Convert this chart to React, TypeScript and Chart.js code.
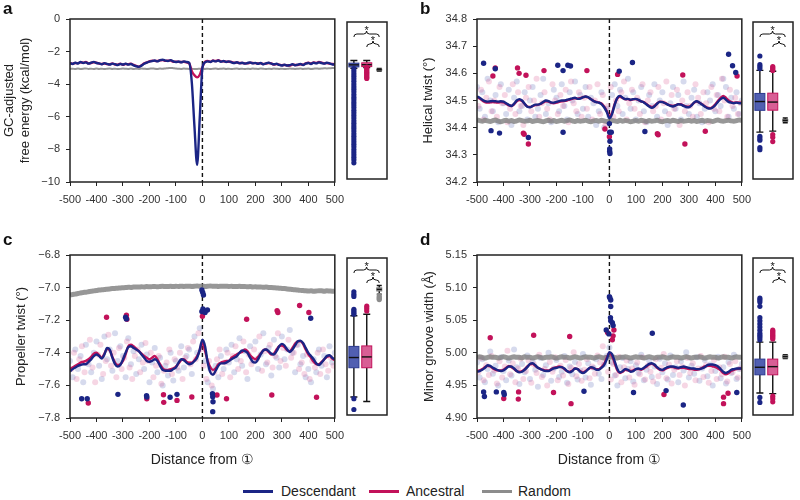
import React, { useEffect, useRef } from "react";
import { Chart, registerables } from "chart.js";

Chart.register(...registerables);

const FONT = '"Liberation Sans", Arial, Helvetica, sans-serif';
const BLUE = "#1b2585";
const PINK = "#c2125a";
const FAINT_BLUE = "rgba(70,85,175,0.22)";
const FAINT_PINK = "rgba(215,70,130,0.22)";

// ---------- sampling positions (bp) ----------
const positions = [-500,-490,-480,-470,-460,-450,-440,-430,-420,-410,-400,-390,-380,-370,-360,-350,-340,-330,-320,-310,-300,-290,-280,-270,-260,-250,-240,-230,-220,-210,-200,-190,-180,-170,-160,-150,-140,-130,-120,-110,-100,-90,-80,-70,-60,-50,-40,-30,-20,-10,0,10,20,30,40,50,60,70,80,90,100,110,120,130,140,150,160,170,180,190,200,210,220,230,240,250,260,270,280,290,300,310,320,330,340,350,360,370,380,390,400,410,420,430,440,450,460,470,480,490,500];
const midPositions = [-495,-485,-475,-465,-455,-445,-435,-425,-415,-405,-395,-385,-375,-365,-355,-345,-335,-325,-315,-305,-295,-285,-275,-265,-255,-245,-235,-225,-215,-205,-195,-185,-175,-165,-155,-145,-135,-125,-115,-105,-95,-85,-75,-65,-55,-45,-35,-25,-15,-5,5,15,25,35,45,55,65,75,85,95,105,115,125,135,145,155,165,175,185,195,205,215,225,235,245,255,265,275,285,295,305,315,325,335,345,355,365,375,385,395,405,415,425,435,445,455,465,475,485,495];
const xTicks = [-500,-400,-300,-200,-100,0,100,200,300,400,500];

// ---------- panel a: GC-adjusted free energy ----------
const freeDesc = [
-2.70,-2.76,-2.68,-2.73,-2.64,-2.70,-2.66,-2.74,-2.68,-2.63,
-2.70,-2.72,-2.78,-2.71,-2.75,-2.80,-2.74,-2.77,-2.82,-2.76,
-2.79,-2.74,-2.80,-2.76,-2.84,-2.90,-2.94,-2.86,-2.75,-2.68,
-2.62,-2.58,-2.55,-2.60,-2.52,-2.50,-2.55,-2.58,-2.52,-2.60,
-2.64,-2.61,-2.66,-2.60,-2.64,-2.68,-3.90,-6.60,-8.95,-6.05,
-3.00,-2.66,-2.60,-2.64,-2.56,-2.60,-2.55,-2.62,-2.58,-2.64,
-2.60,-2.66,-2.70,-2.65,-2.72,-2.68,-2.74,-2.70,-2.66,-2.72,
-2.69,-2.75,-2.70,-2.78,-2.72,-2.68,-2.74,-2.78,-2.75,-2.82,
-2.85,-2.80,-2.86,-2.83,-2.78,-2.84,-2.80,-2.76,-2.82,-2.74,
-2.70,-2.76,-2.68,-2.72,-2.66,-2.70,-2.74,-2.68,-2.72,-2.78,
-2.80];
const freeAnc = [
-2.72,-2.74,-2.70,-2.71,-2.66,-2.68,-2.64,-2.72,-2.70,-2.65,
-2.68,-2.74,-2.76,-2.73,-2.77,-2.78,-2.72,-2.79,-2.80,-2.74,
-2.81,-2.76,-2.78,-2.74,-2.82,-2.88,-2.92,-2.84,-2.72,-2.66,
-2.60,-2.56,-2.57,-2.58,-2.54,-2.52,-2.57,-2.56,-2.55,-2.62,
-2.62,-2.63,-2.64,-2.62,-2.66,-2.72,-3.20,-3.45,-3.58,-3.42,
-2.95,-2.62,-2.58,-2.62,-2.55,-2.58,-2.53,-2.60,-2.60,-2.62,
-2.62,-2.64,-2.68,-2.67,-2.70,-2.70,-2.72,-2.72,-2.68,-2.70,
-2.71,-2.73,-2.72,-2.76,-2.74,-2.70,-2.72,-2.80,-2.77,-2.80,
-2.83,-2.82,-2.84,-2.85,-2.80,-2.82,-2.82,-2.78,-2.80,-2.72,
-2.68,-2.74,-2.66,-2.70,-2.64,-2.68,-2.72,-2.70,-2.74,-2.76,
-2.78];
const freeRnd = [
-3.06,-3.05,-3.07,-3.04,-3.06,-3.05,-3.03,-3.06,-3.05,-3.07,
-3.04,-3.06,-3.05,-3.07,-3.05,-3.04,-3.06,-3.05,-3.07,-3.06,
-3.04,-3.05,-3.06,-3.04,-3.07,-3.05,-3.06,-3.04,-3.05,-3.06,
-3.05,-3.03,-3.05,-3.06,-3.04,-3.05,-3.03,-3.02,-3.00,-3.02,
-3.04,-3.05,-3.06,-3.04,-3.05,-3.06,-3.05,-3.07,-3.06,-3.05,
-3.04,-3.06,-3.05,-3.07,-3.05,-3.04,-3.06,-3.05,-3.04,-3.06,
-3.05,-3.07,-3.05,-3.04,-3.06,-3.05,-3.07,-3.05,-3.06,-3.04,
-3.05,-3.06,-3.04,-3.05,-3.07,-3.05,-3.06,-3.04,-3.05,-3.06,
-3.05,-3.07,-3.06,-3.04,-3.05,-3.06,-3.05,-3.04,-3.06,-3.05,
-3.04,-3.06,-3.05,-3.03,-3.05,-3.04,-3.02,-3.03,-3.02,-3.01,
-3.00];
const boxFreeDesc = [-2.95, -2.86, -2.73, -2.62, -2.45];
const boxFreeAnc = [-2.9, -2.84, -2.72, -2.6, -2.45];
const boxFreeRnd = [-3.12, -3.07, -3.04, -3.01, -2.96];
const outFreeDesc = [-2.97,-3.12,-3.29,-3.45,-3.62,-3.78,-3.95,-4.12,-4.28,-4.45,-4.62,-4.79,-4.95,-5.12,-5.28,-5.45,-5.62,-5.78,-5.95,-6.12,-6.29,-6.45,-6.62,-6.78,-6.95,-7.12,-7.28,-7.45,-7.62,-7.79,-7.95,-8.12,-8.28,-8.45,-8.62,-8.78,-8.97];
const outFreeAnc = [-2.88,-2.96,-3.04,-3.12,-3.2,-3.28,-3.36,-3.44,-3.52,-3.6];
const outFreeRnd: number[] = [];

// ---------- panel b: helical twist ----------
const helDesc = [
34.515,34.510,34.503,34.498,34.496,34.497,34.498,34.497,34.496,34.497,
34.496,34.490,34.484,34.480,34.488,34.500,34.505,34.500,34.488,34.477,
34.475,34.480,34.485,34.485,34.488,34.495,34.500,34.498,34.493,34.492,
34.495,34.498,34.500,34.500,34.503,34.505,34.508,34.510,34.506,34.507,
34.512,34.515,34.512,34.505,34.498,34.494,34.492,34.487,34.475,34.458,
34.435,34.450,34.485,34.510,34.517,34.510,34.505,34.506,34.503,34.505,
34.506,34.502,34.497,34.493,34.485,34.478,34.473,34.478,34.488,34.495,
34.494,34.490,34.485,34.480,34.478,34.482,34.486,34.485,34.480,34.476,
34.475,34.482,34.493,34.497,34.492,34.485,34.478,34.472,34.470,34.474,
34.483,34.495,34.505,34.510,34.503,34.495,34.492,34.490,34.492,34.490,
34.490];
const helAnc = [
34.512,34.507,34.500,34.494,34.492,34.493,34.494,34.493,34.492,34.494,
34.493,34.488,34.482,34.480,34.486,34.497,34.502,34.498,34.487,34.478,
34.476,34.479,34.483,34.484,34.487,34.493,34.497,34.496,34.491,34.490,
34.492,34.495,34.497,34.498,34.500,34.503,34.506,34.508,34.507,34.509,
34.512,34.514,34.511,34.505,34.499,34.495,34.493,34.489,34.478,34.462,
34.442,34.455,34.487,34.508,34.514,34.509,34.504,34.505,34.502,34.504,
34.505,34.501,34.497,34.494,34.487,34.480,34.476,34.480,34.489,34.496,
34.495,34.491,34.486,34.482,34.480,34.483,34.486,34.486,34.482,34.478,
34.477,34.483,34.492,34.496,34.492,34.486,34.479,34.474,34.472,34.476,
34.486,34.499,34.510,34.517,34.510,34.500,34.495,34.492,34.493,34.492,
34.492];
const helRnd = [
34.428,34.426,34.424,34.427,34.425,34.423,34.426,34.428,34.424,34.422,
34.425,34.427,34.424,34.426,34.423,34.425,34.428,34.426,34.424,34.425,
34.427,34.423,34.425,34.426,34.424,34.422,34.425,34.427,34.424,34.426,
34.423,34.425,34.427,34.424,34.426,34.428,34.425,34.423,34.426,34.424,
34.425,34.427,34.424,34.422,34.425,34.426,34.424,34.427,34.425,34.423,
34.424,34.426,34.425,34.423,34.427,34.424,34.426,34.425,34.422,34.424,
34.426,34.424,34.427,34.425,34.423,34.426,34.424,34.425,34.427,34.424,
34.422,34.425,34.426,34.424,34.427,34.425,34.423,34.426,34.424,34.425,
34.427,34.424,34.426,34.423,34.425,34.427,34.424,34.426,34.425,34.423,
34.426,34.428,34.425,34.424,34.426,34.427,34.425,34.424,34.426,34.428,
34.427];
const helFaintDesc = [
34.55,34.47,34.53,34.44,34.58,34.50,34.46,34.52,34.42,34.56,
34.49,34.45,34.54,34.41,34.51,34.57,34.46,34.48,34.53,34.43,
34.50,34.55,34.44,34.47,34.52,34.58,34.45,34.49,34.42,34.54,
34.51,34.46,34.56,34.48,34.43,34.53,34.50,34.57,34.45,34.52,
34.47,34.55,34.44,34.51,34.49,34.41,34.46,34.53,34.40,34.47,
34.44,34.52,34.56,34.48,34.54,34.45,34.51,34.58,34.47,34.53,
34.43,34.50,34.55,34.46,34.42,34.52,34.48,34.56,34.44,34.50,
34.53,34.46,34.41,34.49,34.55,34.47,34.52,34.43,34.57,34.48,
34.45,34.51,34.54,34.44,34.49,34.42,34.47,34.53,34.50,34.56,
34.46,34.52,34.48,34.58,34.55,34.44,34.51,34.47,34.53,34.45,
34.50];
const helFaintAnc = [
34.48,34.54,34.43,34.51,34.57,34.46,34.50,34.44,34.55,34.49,
34.52,34.42,34.47,34.56,34.45,34.53,34.48,34.41,34.51,34.55,
34.46,34.50,34.58,34.44,34.49,34.53,34.47,34.43,34.56,34.50,
34.45,34.52,34.48,34.54,34.42,34.57,34.49,34.46,34.53,34.44,
34.51,34.47,34.55,34.43,34.50,34.56,34.45,34.52,34.41,34.48,
34.55,34.44,34.50,34.46,34.53,34.57,34.43,34.49,34.54,34.47,
34.51,34.45,34.56,34.42,34.50,34.53,34.46,34.48,34.55,34.43,
34.49,34.57,34.45,34.52,34.47,34.54,34.41,34.50,34.46,34.53,
34.48,34.44,34.56,34.51,34.45,34.53,34.49,34.42,34.55,34.47,
34.52,34.46,34.58,34.50,34.44,34.54,34.48,34.51,34.45,34.49];
const helOutDescX = [-475,-431,-447,-415,-306,-195,-175,-157,-147,-175,0,1,2,1,1,2,7,37,87,134,450,465,477];
const helOutDescY = [34.637,34.617,34.389,34.38,34.364,34.63,34.61,34.63,34.627,34.383,34.415,34.383,34.35,34.322,34.313,34.305,34.383,34.608,34.64,34.386,34.67,34.628,34.603];
const helOutAncX = [-431,-440,-347,-341,-315,-325,-322,-306,-247,-85,-17,0,31,181,184,277,285,362,482];
const helOutAncY = [34.62,34.59,34.62,34.60,34.593,34.38,34.376,34.34,34.61,34.61,34.395,34.367,34.596,34.378,34.374,34.594,34.34,34.387,34.59];
const boxHelDesc = [34.379, 34.4625, 34.496, 34.527, 34.615];
const boxHelAnc = [34.383, 34.463, 34.494, 34.528, 34.612];
const boxHelRnd = [34.415, 34.42, 34.424, 34.428, 34.433];
const outHelDesc = [34.67, 34.637, 34.63, 34.622, 34.363, 34.355, 34.348, 34.32, 34.312];
const outHelAnc = [34.63, 34.625, 34.62, 34.615, 34.37, 34.36, 34.343];
const outHelRnd: number[] = [];

// ---------- panel c: propeller twist ----------
const propDesc = [
-7.515,-7.500,-7.490,-7.480,-7.475,-7.470,-7.470,-7.455,-7.440,-7.420,
-7.410,-7.420,-7.435,-7.410,-7.370,-7.380,-7.430,-7.470,-7.485,-7.475,
-7.440,-7.400,-7.365,-7.360,-7.370,-7.380,-7.390,-7.410,-7.430,-7.450,
-7.455,-7.450,-7.440,-7.450,-7.480,-7.505,-7.510,-7.510,-7.510,-7.500,
-7.490,-7.460,-7.440,-7.445,-7.460,-7.470,-7.465,-7.450,-7.430,-7.380,
-7.320,-7.360,-7.460,-7.520,-7.535,-7.510,-7.480,-7.465,-7.465,-7.460,
-7.450,-7.440,-7.430,-7.420,-7.400,-7.385,-7.390,-7.400,-7.430,-7.455,
-7.460,-7.440,-7.410,-7.385,-7.380,-7.390,-7.405,-7.410,-7.390,-7.360,
-7.345,-7.355,-7.380,-7.395,-7.380,-7.355,-7.330,-7.325,-7.340,-7.370,
-7.400,-7.420,-7.440,-7.465,-7.475,-7.460,-7.440,-7.420,-7.415,-7.430,
-7.440];
const propAnc = [
-7.500,-7.490,-7.480,-7.470,-7.460,-7.455,-7.450,-7.440,-7.425,-7.405,
-7.400,-7.415,-7.430,-7.405,-7.375,-7.385,-7.425,-7.460,-7.475,-7.470,
-7.450,-7.410,-7.360,-7.350,-7.360,-7.375,-7.390,-7.405,-7.420,-7.430,
-7.440,-7.430,-7.420,-7.440,-7.470,-7.495,-7.505,-7.505,-7.500,-7.495,
-7.485,-7.465,-7.445,-7.440,-7.455,-7.460,-7.460,-7.445,-7.420,-7.385,
-7.335,-7.390,-7.450,-7.490,-7.505,-7.495,-7.470,-7.460,-7.455,-7.450,
-7.450,-7.430,-7.420,-7.410,-7.400,-7.395,-7.380,-7.390,-7.415,-7.430,
-7.440,-7.425,-7.405,-7.385,-7.380,-7.395,-7.410,-7.405,-7.380,-7.360,
-7.355,-7.365,-7.385,-7.390,-7.370,-7.345,-7.330,-7.330,-7.345,-7.380,
-7.410,-7.430,-7.455,-7.470,-7.470,-7.455,-7.440,-7.425,-7.420,-7.435,
-7.445];
const propRnd = [
-7.045,-7.042,-7.040,-7.036,-7.033,-7.030,-7.028,-7.025,-7.022,-7.020,
-7.018,-7.015,-7.013,-7.012,-7.010,-7.008,-7.006,-7.005,-7.004,-7.002,
-7.001,-7.000,-6.998,-6.999,-6.997,-6.996,-6.997,-6.995,-6.996,-6.994,
-6.995,-6.994,-6.993,-6.995,-6.993,-6.992,-6.994,-6.993,-6.992,-6.994,
-6.992,-6.993,-6.991,-6.993,-6.992,-6.991,-6.993,-6.992,-6.990,-6.992,
-6.991,-6.993,-6.992,-6.990,-6.992,-6.991,-6.993,-6.992,-6.991,-6.992,
-6.993,-6.992,-6.994,-6.993,-6.992,-6.994,-6.993,-6.995,-6.994,-6.996,
-6.995,-6.997,-6.996,-6.998,-6.997,-6.999,-7.000,-7.001,-7.002,-7.004,
-7.005,-7.006,-7.008,-7.010,-7.012,-7.013,-7.015,-7.017,-7.018,-7.020,
-7.021,-7.020,-7.022,-7.021,-7.019,-7.020,-7.022,-7.020,-7.021,-7.022,
-7.022];
const propFaintDesc = [
-7.45,-7.55,-7.38,-7.50,-7.42,-7.58,-7.35,-7.47,-7.52,-7.40,
-7.33,-7.48,-7.56,-7.30,-7.44,-7.38,-7.51,-7.28,-7.45,-7.36,
-7.42,-7.55,-7.31,-7.47,-7.39,-7.53,-7.44,-7.35,-7.50,-7.41,
-7.58,-7.46,-7.37,-7.52,-7.43,-7.60,-7.48,-7.54,-7.40,-7.57,
-7.45,-7.51,-7.36,-7.49,-7.42,-7.38,-7.53,-7.30,-7.40,-7.25,
-7.35,-7.45,-7.58,-7.50,-7.62,-7.48,-7.55,-7.42,-7.50,-7.38,
-7.46,-7.35,-7.52,-7.44,-7.31,-7.48,-7.39,-7.56,-7.36,-7.45,
-7.33,-7.50,-7.41,-7.28,-7.47,-7.37,-7.54,-7.32,-7.43,-7.49,
-7.30,-7.44,-7.38,-7.26,-7.40,-7.52,-7.35,-7.47,-7.42,-7.55,
-7.50,-7.58,-7.44,-7.52,-7.38,-7.48,-7.42,-7.55,-7.36,-7.46,
-7.40];
const propFaintAnc = [
-7.50,-7.40,-7.56,-7.44,-7.36,-7.52,-7.46,-7.32,-7.49,-7.58,
-7.41,-7.35,-7.53,-7.45,-7.29,-7.48,-7.40,-7.55,-7.37,-7.50,
-7.43,-7.33,-7.49,-7.56,-7.42,-7.38,-7.52,-7.46,-7.34,-7.45,
-7.40,-7.55,-7.48,-7.42,-7.59,-7.51,-7.46,-7.38,-7.53,-7.44,
-7.49,-7.40,-7.56,-7.43,-7.37,-7.47,-7.33,-7.44,-7.28,-7.38,
-7.48,-7.56,-7.45,-7.60,-7.52,-7.44,-7.38,-7.53,-7.46,-7.40,
-7.55,-7.42,-7.36,-7.50,-7.45,-7.33,-7.52,-7.41,-7.47,-7.38,
-7.44,-7.30,-7.51,-7.39,-7.46,-7.35,-7.49,-7.42,-7.28,-7.45,
-7.37,-7.48,-7.32,-7.43,-7.40,-7.35,-7.50,-7.46,-7.53,-7.41,
-7.56,-7.45,-7.49,-7.40,-7.53,-7.38,-7.47,-7.51,-7.43,-7.48];
const propOutDescX = [-456,-435,-319,-290,-287,-211,-210,-122,-96,-2,1,4,2,6,-2,19,10,38,39,40,39,409];
const propOutDescY = [-7.682,-7.682,-7.655,-7.182,-7.192,-7.663,-7.671,-7.673,-7.655,-7.014,-7.029,-7.045,-7.131,-7.143,-7.147,-7.137,-7.153,-7.651,-7.669,-7.70,-7.761,-7.188];
const propOutAncX = [-431,-362,-287,-285,-210,-147,-146,-96,-40,0,55,91,167,262,282,285,367,402,431];
const propOutAncY = [-7.708,-7.182,-7.169,-7.194,-7.682,-7.657,-7.704,-7.692,-7.671,-7.176,-7.659,-7.682,-7.194,-7.659,-7.141,-7.153,-7.110,-7.153,-7.673];
const boxPropDesc = [-7.685, -7.499, -7.434, -7.363, -7.168];
const boxPropAnc = [-7.714, -7.499, -7.43, -7.36, -7.158];
const boxPropRnd = [-7.03, -7.01, -7.0, -6.99, -6.975];
const outPropDesc = [-7.015, -7.031, -7.045, -7.127, -7.137, -7.148, -7.158, -7.696, -7.765];
const outPropAnc = [-7.107, -7.121, -7.137];
const outPropRnd = [-7.04, -7.05, -7.058, -7.065];

// ---------- panel d: minor groove width ----------
const mgwDesc = [
4.971,4.972,4.974,4.977,4.981,4.980,4.977,4.975,4.973,4.972,
4.973,4.976,4.979,4.979,4.976,4.972,4.970,4.971,4.974,4.978,
4.983,4.984,4.981,4.977,4.975,4.973,4.972,4.972,4.974,4.976,
4.977,4.978,4.978,4.976,4.972,4.970,4.972,4.976,4.975,4.971,
4.969,4.971,4.975,4.978,4.977,4.974,4.974,4.977,4.981,4.990,
5.001,4.998,4.987,4.975,4.970,4.972,4.975,4.974,4.971,4.972,
4.975,4.976,4.975,4.977,4.980,4.983,4.984,4.982,4.978,4.975,
4.974,4.976,4.978,4.979,4.979,4.978,4.977,4.978,4.979,4.978,
4.977,4.976,4.976,4.975,4.975,4.976,4.978,4.981,4.982,4.982,
4.981,4.979,4.975,4.971,4.969,4.971,4.974,4.975,4.976,4.976,
4.976];
const mgwAnc = [
4.972,4.973,4.975,4.978,4.980,4.979,4.976,4.974,4.973,4.973,
4.974,4.977,4.980,4.978,4.975,4.972,4.971,4.972,4.975,4.979,
4.982,4.983,4.980,4.977,4.975,4.974,4.973,4.973,4.975,4.977,
4.978,4.979,4.978,4.975,4.972,4.971,4.973,4.976,4.975,4.972,
4.970,4.972,4.975,4.977,4.976,4.975,4.975,4.978,4.983,4.992,
5.000,4.995,4.984,4.973,4.969,4.971,4.974,4.973,4.972,4.973,
4.975,4.975,4.974,4.976,4.979,4.982,4.983,4.981,4.977,4.974,
4.973,4.975,4.977,4.978,4.978,4.977,4.976,4.977,4.977,4.976,
4.975,4.975,4.974,4.974,4.975,4.977,4.979,4.980,4.980,4.979,
4.978,4.976,4.973,4.969,4.967,4.969,4.972,4.974,4.975,4.976,
4.976];
const mgwRnd = [
4.993,4.994,4.993,4.992,4.993,4.994,4.993,4.993,4.992,4.993,
4.994,4.993,4.992,4.993,4.994,4.993,4.993,4.992,4.994,4.993,
4.993,4.992,4.993,4.994,4.993,4.992,4.993,4.993,4.994,4.993,
4.992,4.993,4.994,4.993,4.993,4.992,4.993,4.994,4.993,4.992,
4.993,4.994,4.993,4.993,4.992,4.993,4.994,4.993,4.992,4.993,
4.993,4.994,4.993,4.992,4.993,4.993,4.994,4.993,4.992,4.993,
4.994,4.993,4.993,4.992,4.993,4.994,4.993,4.992,4.993,4.993,
4.994,4.993,4.992,4.993,4.994,4.993,4.993,4.992,4.993,4.994,
4.993,4.992,4.993,4.993,4.994,4.993,4.992,4.993,4.994,4.993,
4.993,4.992,4.993,4.994,4.993,4.993,4.992,4.993,4.994,4.993,
4.993];
const mgwFaintDesc = [
4.985,4.962,4.990,4.955,4.975,5.002,4.968,4.980,4.950,4.993,
4.972,4.958,4.988,4.965,5.005,4.978,4.952,4.983,4.970,4.996,
4.960,4.987,4.974,4.948,4.992,4.966,4.981,5.000,4.957,4.976,
4.989,4.963,4.971,4.995,4.954,4.979,4.967,4.986,4.959,4.973,
4.998,4.962,4.984,4.951,4.977,4.990,4.968,4.960,4.982,4.995,
5.008,4.985,4.965,4.950,4.978,4.992,4.961,4.975,4.987,4.956,
4.981,4.969,4.997,4.958,4.974,4.988,4.963,4.979,4.952,4.991,
4.970,4.984,4.959,4.996,4.966,4.978,4.955,4.987,4.973,5.001,
4.962,4.980,4.968,4.993,4.957,4.976,4.989,4.964,4.982,4.950,
4.972,4.994,4.961,4.978,4.953,4.986,4.969,4.997,4.960,4.975,
4.983];
const mgwFaintAnc = [
4.970,4.992,4.958,4.981,4.966,4.995,4.973,4.953,4.987,4.962,
4.979,5.003,4.967,4.984,4.955,4.976,4.991,4.960,4.972,4.988,
4.954,4.982,4.969,4.997,4.963,4.975,4.950,4.986,4.971,4.993,
4.958,4.980,4.965,4.989,4.952,4.977,5.001,4.964,4.983,4.957,
4.974,4.990,4.961,4.979,4.968,4.996,4.985,5.010,4.992,4.971,
4.959,4.983,4.966,4.994,4.955,4.978,4.988,4.962,4.976,4.951,
4.985,4.967,4.993,4.959,4.980,4.971,4.956,4.990,4.964,4.977,
4.998,4.961,4.982,4.953,4.974,4.987,4.966,4.979,4.950,4.992,
4.969,4.984,4.958,4.976,4.995,4.963,4.981,4.954,4.972,4.989,
4.960,4.978,4.967,4.994,4.956,4.983,4.970,4.987,4.962,4.976];
const mgwOutDescX = [-475,-472,-427,-399,-397,-96,-12,-2,0,2,5,5,4,5,11,14,91,162,214,279,481];
const mgwOutDescY = [4.940,4.933,4.940,4.939,4.936,4.941,5.035,5.029,5.086,5.084,5.081,5.071,5.054,5.049,5.046,5.042,4.939,5.030,4.942,4.920,4.939];
const mgwOutAncX = [-450,-399,-343,-344,-286,-211,-150,-145,-7,17,14,11,206,431,431,448];
const mgwOutAncY = [5.023,4.930,4.940,4.929,5.027,4.939,5.025,4.922,5.031,5.035,5.026,5.020,4.936,4.932,4.922,4.938];
const boxMgwDesc = [4.935, 4.964, 4.976, 4.989, 5.016];
const boxMgwAnc = [4.934, 4.964, 4.977, 4.989, 5.016];
const boxMgwRnd = [4.990, 4.991, 4.993, 4.995, 4.996];
const outMgwDesc = [5.086,5.083,5.08,5.073,5.055,5.05,5.045,5.04,5.035,5.03,5.027,5.024,5.02,4.928,4.92];
const outMgwAnc = [5.035,5.033,5.031,5.029,5.027,5.025,5.023,5.021,4.93,4.926,4.921];
const outMgwRnd: number[] = [];

// box positions in the side panel (category slots)
const boxSlots = [0.55, 1.58, 2.58];

// ---------- helpers ----------
const pts = (xs: number[], ys: number[]) => {
  const n = Math.min(xs.length, ys.length);
  const out: { x: number; y: number }[] = [];
  for (let i = 0; i < n; i++) out.push({ x: xs[i], y: ys[i] });
  return out;
};

const framePlugin = {
  id: "frame",
  afterDraw(chart: any) {
    const { ctx, chartArea: a } = chart;
    ctx.save();
    ctx.strokeStyle = "#222";
    ctx.lineWidth = 1.5;
    ctx.strokeRect(a.left, a.top, a.right - a.left, a.bottom - a.top);
    ctx.restore();
  },
};

const zeroLinePlugin = {
  id: "zeroLine",
  beforeDatasetsDraw(chart: any) {
    const { ctx, chartArea: a } = chart;
    const x = chart.scales.x.getPixelForValue(0);
    ctx.save();
    ctx.strokeStyle = "#111";
    ctx.lineWidth = 1.4;
    ctx.setLineDash([4, 3]);
    ctx.beginPath();
    ctx.moveTo(x, a.top);
    ctx.lineTo(x, a.bottom);
    ctx.stroke();
    ctx.restore();
  },
};

type MainSpec = {
  left: number;
  top: number;
  padTop: number;
  xH: number;
  yTitle: string | string[];
  titlePad: number;
  yMin: number;
  yMax: number;
  yStep: number;
  yFmt: (v: number) => string;
  xTitle: boolean;
  desc: number[];
  anc: number[];
  rnd: number[];
  rndWidth: number;
  rndColor: string;
  faintDesc?: number[];
  faintAnc?: number[];
  outDX?: number[];
  outDY?: number[];
  outAX?: number[];
  outAY?: number[];
};

const Y_AXIS_W = 70;
const PLOT_W = 267;
const PLOT_H = 163;
const PAD_RIGHT = 14;

function buildMainConfig(s: MainSpec): any {
  const datasets: any[] = [];
  if (s.faintDesc)
    datasets.push({ data: pts(positions, s.faintDesc), pointRadius: 3, pointBorderWidth: 0, backgroundColor: FAINT_BLUE, order: 10 });
  if (s.faintAnc)
    datasets.push({ data: pts(midPositions, s.faintAnc), pointRadius: 3, pointBorderWidth: 0, backgroundColor: FAINT_PINK, order: 9 });
  const line = (ys: number[], color: string, w: number, order: number) => ({
    data: pts(positions, ys),
    showLine: true,
    borderColor: color,
    borderWidth: w,
    pointRadius: 0,
    fill: false,
    cubicInterpolationMode: "monotone",
    order,
  });
  datasets.push(line(s.rnd, s.rndColor, s.rndWidth, 8));
  datasets.push(line(s.anc, PINK, 2.4, 6));
  datasets.push(line(s.desc, BLUE, 2.4, 5));
  if (s.outAX && s.outAY)
    datasets.push({ data: pts(s.outAX, s.outAY), pointRadius: 2.7, pointBorderWidth: 0, backgroundColor: PINK, order: 2 });
  if (s.outDX && s.outDY)
    datasets.push({ data: pts(s.outDX, s.outDY), pointRadius: 2.7, pointBorderWidth: 0, backgroundColor: BLUE, order: 1 });

  const tickFont = { family: FONT, size: 11 };
  return {
    type: "scatter",
    data: { datasets },
    options: {
      animation: false,
      responsive: false,
      maintainAspectRatio: false,
      events: [],
      layout: { padding: { top: s.padTop, right: PAD_RIGHT, left: 0, bottom: 0 } },
      plugins: { legend: { display: false }, tooltip: { enabled: false } },
      scales: {
        x: {
          type: "linear",
          min: -500,
          max: 500,
          afterFit: (sc: any) => { sc.height = s.xH; },
          afterBuildTicks: (sc: any) => { sc.ticks = xTicks.map((v) => ({ value: v })); },
          ticks: { autoSkip: false, maxRotation: 0, minRotation: 0, font: tickFont, color: "#333", padding: 7, callback: (v: any) => String(v) },
          grid: { drawOnChartArea: false, drawTicks: true, tickLength: 4, color: "#222", lineWidth: 1 },
          border: { display: false },
          title: {
            display: s.xTitle,
            text: "Distance from \u2460",
            font: { family: FONT, size: 14 },
            color: "#222",
            padding: { top: 0, bottom: 4 },
          },
        },
        y: {
          type: "linear",
          min: s.yMin,
          max: s.yMax,
          afterFit: (sc: any) => { sc.width = Y_AXIS_W; },
          ticks: { stepSize: s.yStep, autoSkip: false, font: tickFont, color: "#333", padding: 6, callback: (v: any) => s.yFmt(Number(v)) },
          grid: { drawOnChartArea: false, drawTicks: true, tickLength: 4, color: "#222", lineWidth: 1 },
          border: { display: false },
          title: {
            display: true,
            text: s.yTitle,
            font: { family: FONT, size: 13 },
            color: "#222",
            padding: { top: s.titlePad, bottom: 0 },
          },
        },
      },
    },
    plugins: [zeroLinePlugin, framePlugin],
  };
}

function MainPanel({ spec }: { spec: MainSpec }) {
  const ref = useRef<HTMLCanvasElement>(null);
  const w = Y_AXIS_W + PLOT_W + PAD_RIGHT;
  const h = spec.padTop + PLOT_H + spec.xH;
  useEffect(() => {
    const chart = new Chart(ref.current as HTMLCanvasElement, buildMainConfig(spec));
    return () => chart.destroy();
  }, [spec]);
  return (
    <canvas
      ref={ref}
      width={w}
      height={h}
      style={{ position: "absolute", left: spec.left, top: spec.top, width: w, height: h }}
    />
  );
}

type BoxSpec = {
  left: number;
  top: number;
  yMin: number;
  yMax: number;
  stats: number[][];
  outs: number[][];
};

const BOX_FILL = ["rgba(62,78,168,0.9)", "rgba(212,78,138,0.9)", "#a0a0a0"];
const BOX_STROKE = ["#2a3890", "#c2125a", "#7a7a7a"];
const BOX_W = [10, 10, 5];
const CAP_W = [7, 7, 5];
const OUT_COLOR = [BLUE, PINK, "#8c8c8c"];

function boxPlugin(stats: number[][]) {
  return {
    id: "boxes",
    beforeDatasetsDraw(chart: any) {
      const { ctx } = chart;
      const xs = chart.scales.x;
      const ys = chart.scales.y;
      stats.forEach((st, i) => {
        const cx = xs.getPixelForValue(boxSlots[i]);
        const [lo, q1, med, q3, hi] = st.map((v) => ys.getPixelForValue(v));
        const w = BOX_W[i];
        const cw = CAP_W[i];
        ctx.save();
        ctx.strokeStyle = "#111";
        ctx.lineWidth = 1.4;
        ctx.beginPath();
        ctx.moveTo(cx, q3); ctx.lineTo(cx, hi);
        ctx.moveTo(cx, q1); ctx.lineTo(cx, lo);
        ctx.moveTo(cx - cw / 2, hi); ctx.lineTo(cx + cw / 2, hi);
        ctx.moveTo(cx - cw / 2, lo); ctx.lineTo(cx + cw / 2, lo);
        ctx.stroke();
        ctx.fillStyle = BOX_FILL[i];
        ctx.fillRect(cx - w / 2, q3, w, q1 - q3);
        ctx.strokeStyle = BOX_STROKE[i];
        ctx.lineWidth = 1;
        ctx.strokeRect(cx - w / 2, q3, w, q1 - q3);
        ctx.strokeStyle = "#111";
        ctx.lineWidth = 1.4;
        ctx.beginPath();
        ctx.moveTo(cx - w / 2, med); ctx.lineTo(cx + w / 2, med);
        ctx.stroke();
        ctx.restore();
      });
    },
  };
}

function brace(ctx: CanvasRenderingContext2D, x1: number, x2: number, y: number) {
  const m = (x1 + x2) / 2;
  const r = 3;
  ctx.beginPath();
  ctx.moveTo(x1, y + r);
  ctx.quadraticCurveTo(x1, y, x1 + r, y);
  ctx.lineTo(m - r, y);
  ctx.quadraticCurveTo(m, y, m, y - r);
  ctx.quadraticCurveTo(m, y, m + r, y);
  ctx.lineTo(x2 - r, y);
  ctx.quadraticCurveTo(x2, y, x2, y + r);
  ctx.stroke();
}

const bracketPlugin = {
  id: "brackets",
  afterDraw(chart: any) {
    const { ctx, chartArea: a } = chart;
    const xs = chart.scales.x;
    const xb = xs.getPixelForValue(boxSlots[0]);
    const xp = xs.getPixelForValue(boxSlots[1]);
    const xg = xs.getPixelForValue(boxSlots[2]);
    ctx.save();
    ctx.strokeStyle = "#111";
    ctx.lineWidth = 1;
    brace(ctx, xb, xg, a.top + 12);
    brace(ctx, xp, xg, a.top + 22);
    ctx.fillStyle = "#111";
    ctx.font = `11px ${FONT}`;
    ctx.textAlign = "center";
    ctx.textBaseline = "alphabetic";
    ctx.fillText("*", (xb + xg) / 2, a.top + 11.5);
    ctx.fillText("*", (xp + xg) / 2, a.top + 21.5);
    ctx.restore();
  },
};

function BoxPanel({ spec }: { spec: BoxSpec }) {
  const ref = useRef<HTMLCanvasElement>(null);
  const w = 46 + 2;
  const h = PLOT_H + 2;
  useEffect(() => {
    const datasets = spec.outs.map((o, i) => ({
      data: pts(o.map(() => boxSlots[i]), o),
      pointRadius: 2.6,
      pointBorderWidth: 0,
      backgroundColor: OUT_COLOR[i],
    }));
    const chart = new Chart(ref.current as HTMLCanvasElement, {
      type: "scatter",
      data: { datasets },
      options: {
        animation: false,
        responsive: false,
        maintainAspectRatio: false,
        events: [],
        layout: { padding: 1 },
        plugins: { legend: { display: false }, tooltip: { enabled: false } },
        scales: {
          x: { type: "linear", display: false, min: 0, max: 3.2 },
          y: { type: "linear", display: false, min: spec.yMin, max: spec.yMax },
        },
      },
      plugins: [boxPlugin(spec.stats), framePlugin, bracketPlugin],
    } as any);
    return () => chart.destroy();
  }, [spec]);
  return (
    <canvas
      ref={ref}
      width={w}
      height={h}
      style={{ position: "absolute", left: spec.left - 1, top: spec.top - 1, width: w, height: h }}
    />
  );
}

// ---------- panel specs ----------
const minus = (v: number, d: number) => (v < 0 ? "\u2212" : "") + Math.abs(v).toFixed(d);

const specA: MainSpec = {
  left: 0, top: 0, padTop: 19, xH: 40,
  yTitle: ["GC-adjusted", "free energy (kcal/mol)"], titlePad: 1.7,
  yMin: -10, yMax: 0, yStep: 2, yFmt: (v) => (Math.abs(v) < 1e-9 ? "0" : minus(v, 0)),
  xTitle: false, desc: freeDesc, anc: freeAnc, rnd: freeRnd, rndWidth: 2, rndColor: "rgb(150,150,150)",
};
const specB: MainSpec = {
  left: 407, top: 0, padTop: 19, xH: 40,
  yTitle: "Helical twist (\u00b0)", titlePad: 13.2,
  yMin: 34.2, yMax: 34.8, yStep: 0.1, yFmt: (v) => v.toFixed(1),
  xTitle: false, desc: helDesc, anc: helAnc, rnd: helRnd, rndWidth: 5, rndColor: "rgba(125,125,125,0.8)",
  faintDesc: helFaintDesc, faintAnc: helFaintAnc,
  outDX: helOutDescX, outDY: helOutDescY, outAX: helOutAncX, outAY: helOutAncY,
};
const specC: MainSpec = {
  left: 0, top: 240, padTop: 15, xH: 55,
  yTitle: "Propeller twist (\u00b0)", titlePad: 13.2,
  yMin: -7.8, yMax: -6.8, yStep: 0.2, yFmt: (v) => minus(v, 1),
  xTitle: true, desc: propDesc, anc: propAnc, rnd: propRnd, rndWidth: 5, rndColor: "rgba(125,125,125,0.8)",
  faintDesc: propFaintDesc, faintAnc: propFaintAnc,
  outDX: propOutDescX, outDY: propOutDescY, outAX: propOutAncX, outAY: propOutAncY,
};
const specD: MainSpec = {
  left: 407, top: 240, padTop: 15, xH: 55,
  yTitle: "Minor groove width (\u00c5)", titlePad: 14.2,
  yMin: 4.9, yMax: 5.15, yStep: 0.05, yFmt: (v) => v.toFixed(2),
  xTitle: true, desc: mgwDesc, anc: mgwAnc, rnd: mgwRnd, rndWidth: 5, rndColor: "rgba(125,125,125,0.8)",
  faintDesc: mgwFaintDesc, faintAnc: mgwFaintAnc,
  outDX: mgwOutDescX, outDY: mgwOutDescY, outAX: mgwOutAncX, outAY: mgwOutAncY,
};

const boxA: BoxSpec = { left: 344, top: 19, yMin: -10, yMax: 0, stats: [boxFreeDesc, boxFreeAnc, boxFreeRnd], outs: [outFreeDesc, outFreeAnc, outFreeRnd] };
const boxB: BoxSpec = { left: 750, top: 19, yMin: 34.2, yMax: 34.8, stats: [boxHelDesc, boxHelAnc, boxHelRnd], outs: [outHelDesc, outHelAnc, outHelRnd] };
const boxC: BoxSpec = { left: 344, top: 255, yMin: -7.8, yMax: -6.8, stats: [boxPropDesc, boxPropAnc, boxPropRnd], outs: [outPropDesc, outPropAnc, outPropRnd] };
const boxD: BoxSpec = { left: 750, top: 255, yMin: 4.9, yMax: 5.15, stats: [boxMgwDesc, boxMgwAnc, boxMgwRnd], outs: [outMgwDesc, outMgwAnc, outMgwRnd] };

const legendItems = [
  { label: "Descendant", color: BLUE, lineLeft: 243, textLeft: 281 },
  { label: "Ancestral", color: PINK, lineLeft: 369, textLeft: 406 },
  { label: "Random", color: "rgb(140,140,140)", lineLeft: 482, textLeft: 518 },
];

const panelLetters = [
  { t: "a", left: 3, top: 0 },
  { t: "b", left: 420, top: 0 },
  { t: "c", left: 3, top: 231 },
  { t: "d", left: 420, top: 231 },
];

export default function App() {
  useEffect(() => {
    Chart.defaults.font.family = FONT;
  }, []);
  return (
    <div style={{ position: "fixed", left: 0, top: 0, width: 800, height: 500, background: "#fff", overflow: "hidden", fontFamily: FONT }}>
      <MainPanel spec={specA} />
      <MainPanel spec={specB} />
      <MainPanel spec={specC} />
      <MainPanel spec={specD} />
      <BoxPanel spec={boxA} />
      <BoxPanel spec={boxB} />
      <BoxPanel spec={boxC} />
      <BoxPanel spec={boxD} />
      {panelLetters.map((p) => (
        <div key={p.t} style={{ position: "absolute", left: p.left, top: p.top, fontSize: 17, lineHeight: "17px", fontWeight: "bold", color: "#111" }}>
          {p.t}
        </div>
      ))}
      {legendItems.map((it) => (
        <React.Fragment key={it.label}>
          <div style={{ position: "absolute", left: it.lineLeft, top: 490, width: 30, height: 2.5, background: it.color }} />
          <div style={{ position: "absolute", left: it.textLeft, top: 483, fontSize: 14, lineHeight: "16px", color: "#222", whiteSpace: "nowrap" }}>
            {it.label}
          </div>
        </React.Fragment>
      ))}
    </div>
  );
}
